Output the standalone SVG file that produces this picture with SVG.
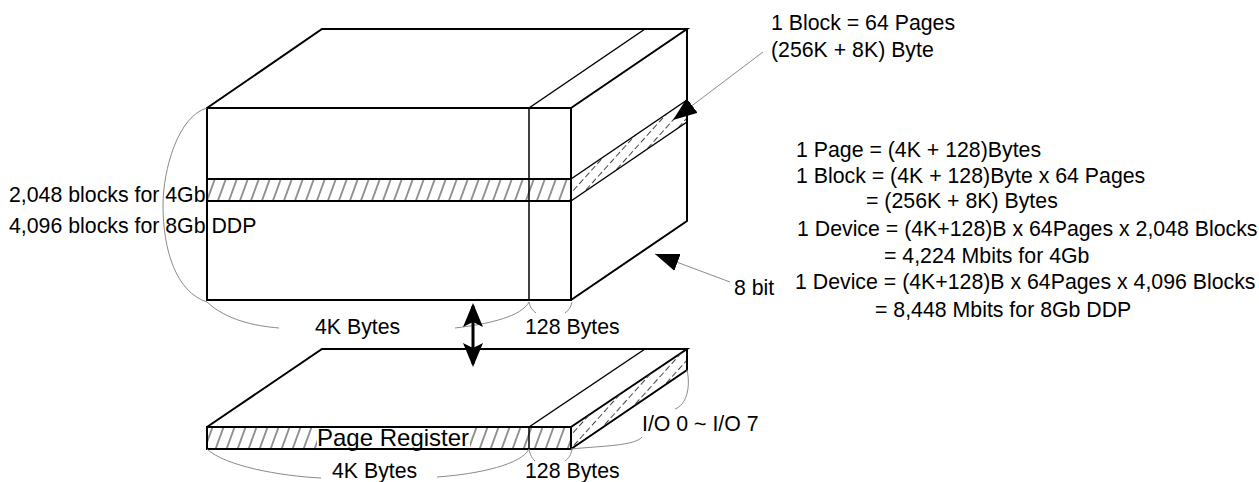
<svg xmlns="http://www.w3.org/2000/svg" width="1259" height="482" viewBox="0 0 1259 482">
<style>
.t{font-family:"Liberation Sans",Arial,sans-serif;font-size:21.3px;fill:#000}
.edge{fill:none;stroke:#000;stroke-width:2;stroke-linejoin:miter}
.thin{fill:none;stroke:#000;stroke-width:1.5}
.brace{fill:none;stroke:#8a8a8a;stroke-width:1}
.lead{fill:none;stroke:#8a8a8a;stroke-width:1}
</style>
<defs>
<pattern id="hatch" patternUnits="userSpaceOnUse" width="11" height="11" patternTransform="skewX(-20)">
<line x1="5" y1="-1" x2="5" y2="12" stroke="#222" stroke-width="1"/>
</pattern>
<pattern id="hatchSide" patternUnits="userSpaceOnUse" width="9" height="9" patternTransform="rotate(-48)">
<line x1="-1" y1="4.5" x2="10" y2="4.5" stroke="#444" stroke-width="1" stroke-dasharray="6 3"/>
</pattern>
<marker id="ah" markerUnits="userSpaceOnUse" markerWidth="26" markerHeight="20" viewBox="0 0 26 20" refX="24" refY="9" orient="auto">
<path d="M0,0 L24,9 L0,18 Z" fill="#000"/>
</marker>
<marker id="ahb" markerUnits="userSpaceOnUse" markerWidth="26" markerHeight="22" viewBox="0 0 26 22" refX="21" refY="10" orient="auto-start-reverse">
<path d="M0,0 L24,10 L0,20 L5,10 Z" fill="#000"/>
</marker>
</defs>

<g id="memory-array">
<path class="edge" d="M207,108 L322,29 L687,29 L571,108"/>
<line class="thin" x1="529" y1="108" x2="645" y2="29"/>
<rect x="207" y="179" width="364" height="22" fill="url(#hatch)"/>
<polygon points="571,179 687,100 687,122 571,201" fill="url(#hatchSide)"/>
<rect class="edge" x="207" y="108" width="364" height="192"/>
<line class="edge" x1="207" y1="179" x2="571" y2="179"/>
<line class="edge" x1="207" y1="201" x2="571" y2="201"/>
<line class="thin" x1="529" y1="108" x2="529" y2="300"/>
<path class="edge" d="M687,29 L687,221 L571,300"/>
<line class="thin" x1="571" y1="179" x2="687" y2="100"/>
<line class="thin" x1="571" y1="201" x2="687" y2="122"/>
</g>

<g id="page-register">
<path class="edge" d="M207,427 L322,349 L687,349 L571,427"/>
<line class="thin" x1="529" y1="427" x2="645" y2="349"/>
<rect x="207" y="427" width="364" height="22" fill="url(#hatch)"/>
<polygon points="571,427 687,349 687,370 571,449" fill="url(#hatchSide)"/>
<rect x="317" y="428" width="153" height="20" fill="#fff"/>
<rect class="edge" x="207" y="427" width="364" height="22"/>
<line class="thin" x1="529" y1="427" x2="529" y2="449"/>
<path class="edge" d="M687,349 L687,370 L571,449"/>
<text class="t" x="317" y="446" style="font-size:24px">Page Register</text>
</g>

<g id="braces">
<path class="brace" d="M207,108 C178,116 163,170 163,205 C163,250 176,292 207,302 C226,320 255,326 279,328"/>
<path class="brace" d="M455,328 C490,324 522,316 529,302"/>
<path class="brace" d="M529,302 C530,307 532,310 536,313"/>
<path class="brace" d="M572,302 C571,307 569,310 565,313"/>
<path class="brace" d="M207,449 C225,466 280,476 321,478"/>
<path class="brace" d="M437,477 C480,474 522,464 529,449"/>
<path class="brace" d="M529,449 C530,455 532,458 535,461"/>
<path class="brace" d="M572,449 C571,455 569,458 565,461"/>
<path class="brace" d="M687,370 C691,388 686,405 675,409"/>
<path class="brace" d="M642,437 C635,446 600,446 571,449"/>
</g>

<g id="connectors">
<line class="lead" x1="763" y1="52" x2="673" y2="120" marker-end="url(#ah)"/>
<line class="lead" x1="730" y1="282" x2="655" y2="254" marker-end="url(#ah)"/>
<line x1="473" y1="306" x2="473" y2="364" stroke="#000" stroke-width="3" marker-start="url(#ahb)" marker-end="url(#ahb)"/>
</g>

<g id="labels">
<text class="t" x="771" y="30">1 Block = 64 Pages</text>
<text class="t" x="771" y="57">(256K + 8K) Byte</text>
<text class="t" x="9" y="202">2,048 blocks for 4Gb</text>
<text class="t" x="9" y="233">4,096 blocks for 8Gb DDP</text>
<text class="t" x="315" y="334">4K Bytes</text>
<text class="t" x="525" y="334">128 Bytes</text>
<text class="t" x="734" y="295">8 bit</text>
<text class="t" x="642" y="431">I/O 0 ~ I/O 7</text>
<text class="t" x="332" y="478">4K Bytes</text>
<text class="t" x="525" y="478">128 Bytes</text>
<text class="t" x="796" y="157">1 Page = (4K + 128)Bytes</text>
<text class="t" x="796" y="183">1 Block = (4K + 128)Byte x 64 Pages</text>
<text class="t" x="866" y="208">= (256K + 8K) Bytes</text>
<text class="t" x="797" y="236">1 Device = (4K+128)B x 64Pages x 2,048 Blocks</text>
<text class="t" x="884" y="263">= 4,224 Mbits for 4Gb</text>
<text class="t" x="795" y="289">1 Device = (4K+128)B x 64Pages x 4,096 Blocks</text>
<text class="t" x="875" y="317">= 8,448 Mbits for 8Gb DDP</text>
</g>
</svg>
